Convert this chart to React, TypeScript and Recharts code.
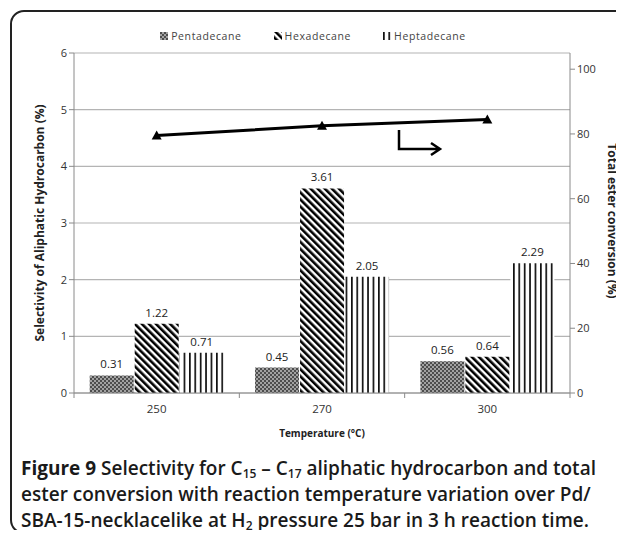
import React from 'react';
import {
  ComposedChart,
  Bar,
  Line,
  XAxis,
  YAxis,
  CartesianGrid,
  Legend,
  LabelList,
} from 'recharts';

const categories = ['250', '270', '300'];
const pentadecane = [0.31, 0.45, 0.56];
const hexadecane = [1.22, 3.61, 0.64];
const heptadecane = [0.71, 2.05, 2.29];
const esterConversion = [79.5, 82.5, 84.5];
const leftTicks = [0, 1, 2, 3, 4, 5, 6];
const rightTicks = [0, 20, 40, 60, 80, 100];

const data = categories.map((t, i) => ({
  temp: t,
  pentadecane: pentadecane[i],
  hexadecane: hexadecane[i],
  heptadecane: heptadecane[i],
  conversion: esterConversion[i],
}));

const legendItems = [
  { key: 'pentadecane', name: 'Pentadecane', fill: 'url(#patPenta)' },
  { key: 'hexadecane', name: 'Hexadecane', fill: 'url(#patHexa)' },
  { key: 'heptadecane', name: 'Heptadecane', fill: 'url(#patHepta)' },
];

const chartFont = '"Open Sans", "DejaVu Sans", sans-serif';
const axisGray = '#8a8a8a';

const TriangleDot = (props: any) => {
  const { cx, cy } = props;
  if (cx == null || cy == null) return null;
  return <path d={`M${cx},${cy - 5} L${cx + 5},${cy + 4} L${cx - 5},${cy + 4} Z`} fill="#000" />;
};

// category label plus tick marks on the category boundaries (Excel style)
const TempTick = (props: any) => {
  const { x, y, payload, index, width, visibleTicksCount } = props;
  const band = (width || 496) / (visibleTicksCount || categories.length);
  const axisY = y - 8;
  const last = index === (visibleTicksCount || categories.length) - 1;
  return (
    <g>
      <line x1={x - band / 2} x2={x - band / 2} y1={axisY} y2={axisY + 5} stroke={axisGray} />
      {last && (
        <line x1={x + band / 2} x2={x + band / 2} y1={axisY} y2={axisY + 5} stroke={axisGray} />
      )}
      <text
        x={x}
        y={y}
        dy={12}
        textAnchor="middle"
        fill="#333"
        fontSize={11.5}
        fontFamily={chartFont}
      >
        {payload.value}
      </text>
    </g>
  );
};

const LegendContent = () => (
  <div
    style={{
      display: 'flex',
      justifyContent: 'center',
      gap: 32,
      fontFamily: chartFont,
      fontSize: 10.5,
      color: '#444',
      letterSpacing: 0.6,
      paddingLeft: 2,
    }}
  >
    {legendItems.map((it) => (
      <div key={it.key} style={{ display: 'flex', alignItems: 'center', gap: 3 }}>
        <svg width={8} height={8}>
          <rect width={8} height={8} fill={it.fill} />
        </svg>
        <span>{it.name}</span>
      </div>
    ))}
  </div>
);

const subStyle: React.CSSProperties = {
  fontSize: 12,
  lineHeight: 0,
  verticalAlign: '-0.25em',
};

const App: React.FC = () => {
  return (
    <div style={{ position: 'relative', width: 624, height: 538, margin: -8, background: '#fff' }}>
      {/* figure frame */}
      <div
        style={{
          position: 'absolute',
          left: 10,
          top: 10,
          width: 640,
          height: 524,
          border: '2px solid #222',
          borderRadius: 14,
          boxSizing: 'border-box',
        }}
      />
      <div style={{ position: 'absolute', left: 0, top: 0 }}>
        <ComposedChart
          width={624}
          height={450}
          data={data}
          margin={{ top: 53, right: 24, bottom: 7, left: 44 }}
          barCategoryGap="9.5%"
          barGap={1}
        >
          <defs>
            <pattern id="patPenta" width={4} height={4} patternUnits="userSpaceOnUse">
              <rect width={4} height={4} fill="#a2a2a2" />
              <rect width={2} height={2} fill="#4d4d4d" />
              <rect x={2} y={2} width={2} height={2} fill="#4d4d4d" />
            </pattern>
            <pattern
              id="patHexa"
              width={5}
              height={5}
              patternUnits="userSpaceOnUse"
              patternTransform="rotate(-45)"
            >
              <rect width={5} height={5} fill="#fff" />
              <rect width={2.6} height={5} fill="#000" />
            </pattern>
            <pattern id="patHepta" width={5.4} height={5} patternUnits="userSpaceOnUse">
              <rect width={5.4} height={5} fill="#fff" />
              <rect width={1.7} height={5} fill="#111" />
            </pattern>
          </defs>
          <CartesianGrid yAxisId="left" vertical={false} stroke="#b4b4b4" strokeWidth={1.2} />
          <XAxis
            dataKey="temp"
            height={50}
            tickLine={false}
            tickSize={6}
            tickMargin={2}
            axisLine={{ stroke: axisGray }}
            tick={<TempTick />}
            label={{
              value: 'Temperature (°C)',
              position: 'insideBottom',
              offset: 6,
              fill: '#222',
              fontSize: 10,
              fontWeight: 700,
              fontFamily: chartFont,
            }}
          />
          <YAxis
            yAxisId="left"
            domain={[0, 6]}
            ticks={leftTicks}
            width={30}
            tickSize={5}
            axisLine={{ stroke: axisGray }}
            tickLine={{ stroke: axisGray }}
            tick={{ fill: '#333', fontSize: 11, fontFamily: chartFont }}
            label={{
              value: 'Selectivity of Aliphatic Hydrocarbon (%)',
              angle: -90,
              position: 'insideLeft',
              offset: -4,
              style: { textAnchor: 'middle' },
              fill: '#222',
              fontSize: 12,
              fontWeight: 700,
              fontFamily: chartFont,
            }}
          />
          <YAxis
            yAxisId="right"
            orientation="right"
            domain={[0, 105]}
            ticks={rightTicks}
            width={30}
            tickSize={5}
            axisLine={{ stroke: axisGray }}
            tickLine={{ stroke: axisGray }}
            tick={{ fill: '#333', fontSize: 11, fontFamily: chartFont }}
            label={{
              value: 'Total ester conversion (%)',
              angle: 90,
              position: 'insideRight',
              offset: -12,
              dy: -2,
              style: { textAnchor: 'middle' },
              fill: '#222',
              fontSize: 12,
              fontWeight: 700,
              fontFamily: chartFont,
            }}
          />
          <Legend
            content={<LegendContent />}
            verticalAlign="middle"
            layout="horizontal"
            wrapperStyle={{ top: 29, left: 0, width: 624 }}
          />
          {legendItems.map((it) => (
            <Bar
              key={it.key}
              yAxisId="left"
              dataKey={it.key}
              name={it.name}
              fill={it.fill}
              isAnimationActive={false}
            >
              <LabelList
                dataKey={it.key}
                position="top"
                offset={7}
                fill="#222"
                fontSize={11.5}
                fontFamily={chartFont}
              />
            </Bar>
          ))}
          <Line
            yAxisId="right"
            dataKey="conversion"
            name="Total ester conversion"
            stroke="#000"
            strokeWidth={3}
            dot={<TriangleDot />}
            activeDot={false}
            legendType="none"
            isAnimationActive={false}
          />
        </ComposedChart>
      </div>
      {/* annotation arrow pointing to the right axis */}
      <svg
        width={624}
        height={450}
        style={{ position: 'absolute', left: 0, top: 0, pointerEvents: 'none' }}
      >
        <path
          d="M399,130 L399,149 L440,149 M431,143 L440,149 L431,155"
          fill="none"
          stroke="#000"
          strokeWidth={2.5}
        />
      </svg>
      <div
        style={{
          position: 'absolute',
          left: 21,
          top: 455,
          width: 600,
          fontFamily: '"Open Sans", sans-serif',
          fontSize: 19,
          lineHeight: '26px',
          fontWeight: 600,
          color: '#1a1a1a',
          whiteSpace: 'nowrap',
          letterSpacing: 0,
        }}
      >
        <span style={{ fontWeight: 700 }}>Figure 9</span> Selectivity for C
        <sub style={subStyle}>15</sub> – C<sub style={subStyle}>17</sub> aliphatic hydrocarbon and
        total
        <br />
        ester conversion with reaction temperature variation over Pd/
        <br />
        SBA-15-necklacelike at H<sub style={subStyle}>2</sub> pressure 25 bar in 3 h reaction time.
      </div>
    </div>
  );
};

export default App;
